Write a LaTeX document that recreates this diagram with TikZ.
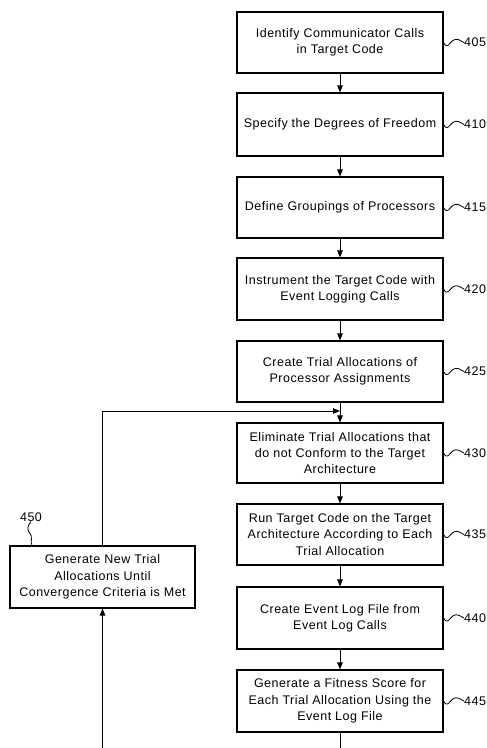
\documentclass[tikz,border=0pt]{standalone}
\usepackage{fontspec}
\newfontfamily\dfont[LetterSpace=4]{Liberation Sans}
\usetikzlibrary{arrows.meta,calc}
\begin{document}
\begin{tikzpicture}[x=1pt,y=-1pt,
  box/.style={draw,line width=1.1pt,rectangle,minimum width=206pt,inner sep=0pt,align=center,
    font=\dfont\fontsize{12.5}{16.3}\selectfont},
  lbl/.style={inner sep=0pt,anchor=west,font=\dfont\fontsize{12.5}{15}\selectfont},
  conn/.style={line width=0.9pt},
  arr/.style={line width=0.9pt,-{Triangle[length=7pt,width=5.5pt]}},
  squig/.style={line width=0.8pt}]
\useasboundingbox (0,0) rectangle (487,748);
\node[box,minimum height=61pt] (b405) at (340,42.5) {Identify Communicator Calls\\in Target Code};
\node[box,minimum height=63pt] (b410) at (340,124.5) {Specify the Degrees of Freedom};
\node[box,minimum height=61pt] (b415) at (340,207.5) {Define Groupings of Processors};
\node[box,minimum height=62pt] (b420) at (340,289) {Instrument the Target Code with\\Event Logging Calls};
\node[box,minimum height=61pt] (b425) at (340,371.5) {Create Trial Allocations of\\Processor Assignments};
\node[box,minimum height=60pt] (b430) at (340,453) {Eliminate Trial Allocations that\\do not Conform to the Target\\Architecture};
\node[box,minimum height=61pt] (b435) at (340,534.5) {Run Target Code on the Target\\Architecture According to Each\\Trial Allocation};
\node[box,minimum height=62pt] (b440) at (340,618) {Create Event Log File from\\Event Log Calls};
\node[box,minimum height=62pt] (b445) at (340,701) {Generate a Fitness Score for\\Each Trial Allocation Using the\\Event Log File};
\node[box,minimum width=185pt,minimum height=62pt] (b450) at (102.5,577) {Generate New Trial\\Allocations Until\\Convergence Criteria is Met};
% labels
\foreach \n/\yy in {405/42.5,410/124.5,415/207.5,420/289,425/371.5,430/453,435/534.5,440/618,445/701}{
  \node[lbl] (l\n) at (464,\yy) {\n};
  \draw[squig] (b\n.east) .. controls +(4,7) and +(-4,3) .. ($(b\n.east)!.45!(l\n.west)+(0,-2)$)
     .. controls +(4,-3) and +(-4,-2) .. (l\n.west);
}
\node[inner sep=0pt,font=\dfont\fontsize{12.5}{15}\selectfont] (l450) at (31,517) {450};
\draw[squig] (l450.south) .. controls +(-4,4) and +(-3,-3) .. ($(l450.south)!.5!(b450.north west -| l450.south)+(-1,0)$)
   .. controls +(3,3) and +(-2,-3) .. ($(b450.north west -| l450.south)+(1,0)$);
% connectors
\draw[arr] (b405) -- (b410);
\draw[arr] (b410) -- (b415);
\draw[arr] (b415) -- (b420);
\draw[arr] (b420) -- (b425);
\draw[arr] (b425) -- (b430);
\draw[arr] (b430) -- (b435);
\draw[arr] (b435) -- (b440);
\draw[arr] (b440) -- (b445);
\coordinate (j) at (340,411);
\draw[arr] (b450.north) |- (j);
\coordinate (e1) at (340,748);
\coordinate (e2) at (102.5,748);
\draw[conn] (b445.south) -- (e1);
\draw[arr] (e2) -- (b450.south);
\end{tikzpicture}
\end{document}
